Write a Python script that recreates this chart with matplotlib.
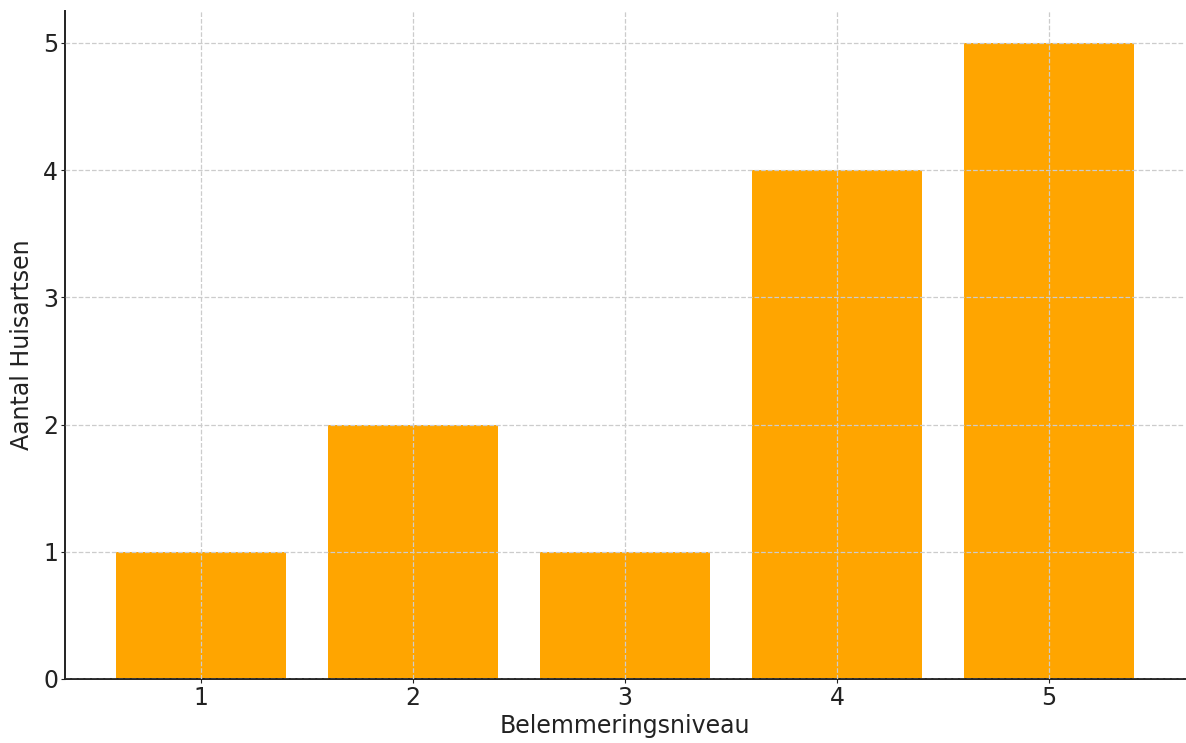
import matplotlib
matplotlib.use("Agg")
import matplotlib.pyplot as plt

levels = [1, 2, 3, 4, 5]
counts = [1, 2, 1, 4, 5]

fig = plt.figure(figsize=(11.86, 7.43), dpi=100)
ax = fig.add_axes([65 / 1186, 64 / 743, 1120 / 1186, 668 / 743])

ax.bar(levels, counts, color='#FFA500', width=0.8, zorder=1)
ax.grid(True, linestyle='--', color='#cccccc', linewidth=0.9, zorder=2)
ax.set_axisbelow(False)

ax.set_xticks(levels)
ax.set_xlabel('Belemmeringsniveau', fontsize=17, color='#222222', labelpad=3)
ax.set_ylabel('Aantal Huisartsen', fontsize=17, color='#222222', labelpad=6)
ax.tick_params(labelsize=17, colors='#222222', length=3, pad=2)

for s in ['top', 'right']:
    ax.spines[s].set_visible(False)
for s in ['left', 'bottom']:
    ax.spines[s].set_linewidth(1.4)
    ax.spines[s].set_color('#222222')

fig.savefig('out.png', dpi=100)
